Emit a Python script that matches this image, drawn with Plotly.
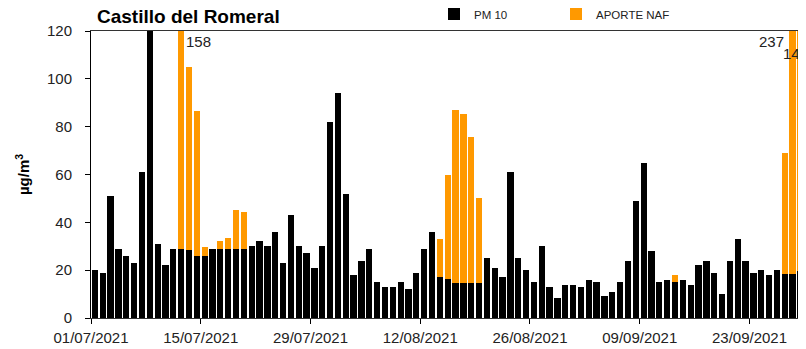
import pandas as pd
import plotly.graph_objects as go

# daily PM10 at Castillo del Romeral, 01/07/2021 - 29/09/2021 (ug/m3)
pm10_jul = [20, 19, 51, 29, 26, 23, 61, 122, 31, 22, 29, 29, 28.5, 26, 26, 29,
            29, 29, 29, 29, 30, 32, 30, 36, 23, 43, 30, 27, 21, 30, 82]
pm10_aug = [94, 52, 18, 24, 29, 15, 13, 13, 15, 12, 19, 29, 36, 17, 16.5, 14.5,
            14.5, 14.5, 14.5, 25, 21, 17, 61, 25, 20, 15, 30, 13, 8.5, 14, 14]
pm10_sep = [13, 16, 15, 9, 11, 15, 24, 49, 65, 28, 15, 16, 15, 16, 14, 22,
            24, 19, 10, 24, 33, 24, 19, 20, 18, 20, 18.5, 18.5, 19.5]

# natural (saharan dust) contribution, only on episode days
naf_dates = ['2021-07-12', '2021-07-13', '2021-07-14', '2021-07-15', '2021-07-17',
             '2021-07-18', '2021-07-19', '2021-07-20', '2021-08-14', '2021-08-15',
             '2021-08-16', '2021-08-17', '2021-08-18', '2021-08-19', '2021-09-13',
             '2021-09-27', '2021-09-28', '2021-09-29']
naf_values = [129, 76.5, 60.5, 3.5, 3, 4.5, 16, 15.3, 16, 43.5,
              72.5, 71, 61, 35.5, 3, 50.5, 218.5, 124.5]

# bars over the top of the axis that carry a value label
labelled_dates = ['2021-07-12', '2021-09-28', '2021-09-29']

dates = pd.date_range('2021-07-01', periods=len(pm10_jul) + len(pm10_aug) + len(pm10_sep), freq='D')
pm10 = pd.Series(pm10_jul + pm10_aug + pm10_sep, index=dates)
naf = pd.Series(naf_values, index=pd.to_datetime(naf_dates)).reindex(dates, fill_value=0)

font = 'Liberation Sans, Arial, sans-serif'

# the page body has an 8px margin, so the figure is drawn 8px smaller
W, H = 806 - 8, 349 - 8

fig = go.Figure()
fig.add_trace(go.Bar(
    x=dates, y=pm10, name='PM 10',
    marker=dict(color='black', line=dict(width=0)),
    xperiod=86400000, xperiodalignment='middle',
))
fig.add_trace(go.Bar(
    x=dates, y=naf, name='APORTE NAF',
    marker=dict(color='#FF9900', line=dict(width=0)),
    xperiod=86400000, xperiodalignment='middle',
))

# value labels for the clipped bars
offsets = {'2021-07-12': (3, 0, 'left'), '2021-09-28': (-7, 0, 'right'), '2021-09-29': (-5, -12, 'center')}
for d in labelled_dates:
    ts = pd.Timestamp(d)
    total = pm10[ts] + naf[ts]
    dx, dy, anchor = offsets[d]
    fig.add_annotation(
        x=ts + pd.Timedelta(hours=12), y=120, text=f'{total:.0f}',
        showarrow=False, xanchor=anchor, yanchor='top', xshift=dx, yshift=dy,
        font=dict(family=font, size=15, color='#222'),
    )

fig.update_layout(
    template='simple_white',
    barmode='stack',
    bargap=0.2,
    width=W,
    height=H,
    margin=dict(l=83, r=0, t=23, b=31, autoexpand=False),
    plot_bgcolor='white',
    paper_bgcolor='white',
    title=dict(text='<b>Castillo del Romeral</b>', x=89 / W, xanchor='left',
               y=1 - 8 / H, yanchor='middle',
               font=dict(family=font, size=19, color='black')),
    legend=dict(orientation='h', traceorder='normal',
                xref='container', yref='container',
                x=426 / W, xanchor='left', y=1 - 6 / H, yanchor='middle',
                entrywidth=77, entrywidthmode='pixels', itemwidth=30,
                font=dict(family=font, size=11.5, color='#222'), bgcolor='rgba(0,0,0,0)'),
    xaxis=dict(
        type='date', automargin=False,
        range=['2021-07-01', '2021-09-30 05:00'],
        tick0='2021-07-01', dtick=14 * 86400000, tickformat='%d/%m/%Y',
        ticks='outside', ticklen=5, tickcolor='black',
        showline=True, linecolor='#333', linewidth=1, mirror=True,
        showgrid=False, zeroline=False,
        tickfont=dict(family=font, size=15, color='#222'),
        ticklabelstandoff=1,
    ),
    yaxis=dict(
        range=[0, 120], dtick=20, automargin=False,
        ticks='outside', ticklen=5, tickcolor='black',
        showline=True, linecolor='black', linewidth=1, mirror=False,
        showgrid=False, zeroline=False,
        tickfont=dict(family=font, size=15, color='#222'),
        ticklabelstandoff=10,
        title=dict(text='<b>µg/m<sup>3</sup></b>', standoff=13,
                   font=dict(family=font, size=15, color='black')),
    ),
)

fig.write_html('out.html')
